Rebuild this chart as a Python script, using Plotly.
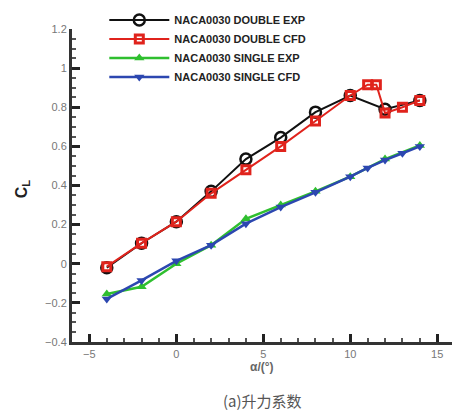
import plotly.graph_objects as go

# Angle of attack (deg) and lift coefficient values
alpha_double_exp = [-4, -2, 0, 2, 4, 6, 8, 10, 12, 14]
cl_double_exp = [-0.02, 0.105, 0.215, 0.37, 0.535, 0.645, 0.775, 0.86, 0.79, 0.835]

alpha_double_cfd = [-4, -2, 0, 2, 4, 6, 8, 10, 11, 11.5, 12, 13, 14]
cl_double_cfd = [-0.015, 0.105, 0.215, 0.36, 0.48, 0.60, 0.73, 0.86, 0.915, 0.915, 0.77, 0.80, 0.835]

alpha_single_exp = [-4, -2, 0, 2, 4, 6, 8, 10, 12, 14]
cl_single_exp = [-0.155, -0.118, 0.0, 0.095, 0.23, 0.30, 0.37, 0.445, 0.535, 0.605]

alpha_single_cfd = [-4, -2, 0, 2, 4, 6, 8, 10, 11, 12, 13, 14]
cl_single_cfd = [-0.18, -0.085, 0.015, 0.095, 0.205, 0.29, 0.365, 0.445, 0.49, 0.53, 0.565, 0.60]

names = ["NACA0030 DOUBLE EXP", "NACA0030 DOUBLE CFD",
         "NACA0030 SINGLE EXP", "NACA0030 SINGLE CFD"]

fig = go.Figure()
fig.add_trace(go.Scatter(
    x=alpha_double_exp, y=cl_double_exp, name=names[0], mode="lines+markers",
    line=dict(color="#111111", width=2),
    marker=dict(symbol="circle-open", size=11, color="#111111", line=dict(width=2.5))))
fig.add_trace(go.Scatter(
    x=alpha_double_cfd, y=cl_double_cfd, name=names[1], mode="lines+markers",
    line=dict(color="#e0231c", width=2),
    marker=dict(symbol="square-open", size=8, color="#e0231c", line=dict(width=3))))
fig.add_trace(go.Scatter(
    x=alpha_single_exp, y=cl_single_exp, name=names[2], mode="lines+markers",
    line=dict(color="#2fbf2f", width=2.5),
    marker=dict(symbol="triangle-up", size=9, color="#2fbf2f")))
fig.add_trace(go.Scatter(
    x=alpha_single_cfd, y=cl_single_cfd, name=names[3], mode="lines+markers",
    line=dict(color="#2c47b0", width=2.5),
    marker=dict(symbol="triangle-down", size=9, color="#2c47b0")))

axis_color = "#333333"
common = dict(
    ticks="inside", ticklen=8, tickwidth=2.5, tickcolor="#222222",
    showline=True, linecolor=axis_color, linewidth=3,
    showgrid=False, zeroline=False,
    tickfont=dict(family="Liberation Sans", size=11, color="#777777"))
fig.update_xaxes(
    range=[-6, 15.85], tickmode="linear", tick0=0, dtick=5,
    minor=dict(dtick=1, tick0=0, ticks="inside", ticklen=4, tickcolor="#555555",
               tickwidth=1.5, showgrid=False),
    **common)
fig.update_yaxes(
    range=[-0.4, 1.2], tickmode="linear", tick0=0, dtick=0.2,
    minor=dict(dtick=0.05, tick0=0, ticks="inside", ticklen=4, tickcolor="#555555",
               tickwidth=1.5, showgrid=False),
    **common)

fig.add_annotation(text="C<sub>L</sub>", xref="paper", yref="paper", x=-0.16, y=0.49,
                   textangle=-90, showarrow=False,
                   font=dict(family="Liberation Sans", size=16, color="#222222", weight="bold"))
fig.add_annotation(text="α/(°)", xref="paper", yref="paper", x=0.50, y=-0.05,
                   yanchor="top", showarrow=False,
                   font=dict(family="Liberation Sans", size=12, color="#666666", weight="bold"))
fig.add_annotation(text="(a)升力系数", xref="paper", yref="paper", x=0.50, y=-0.148,
                   yanchor="top", showarrow=False,
                   font=dict(family="Noto Sans CJK SC", size=15, color="#555555"))

fig.update_layout(
    width=452, height=415, plot_bgcolor="white", paper_bgcolor="white",
    margin=dict(l=72, r=0, t=29, b=73),
    showlegend=True,
    legend=dict(x=0.085, y=1.075, xanchor="left", yanchor="top",
                bgcolor="rgba(0,0,0,0)", tracegroupgap=0, itemwidth=60,
                font=dict(family="Liberation Sans", size=11, color="#222222", weight="bold")),
)

fig.write_html("out.html")
